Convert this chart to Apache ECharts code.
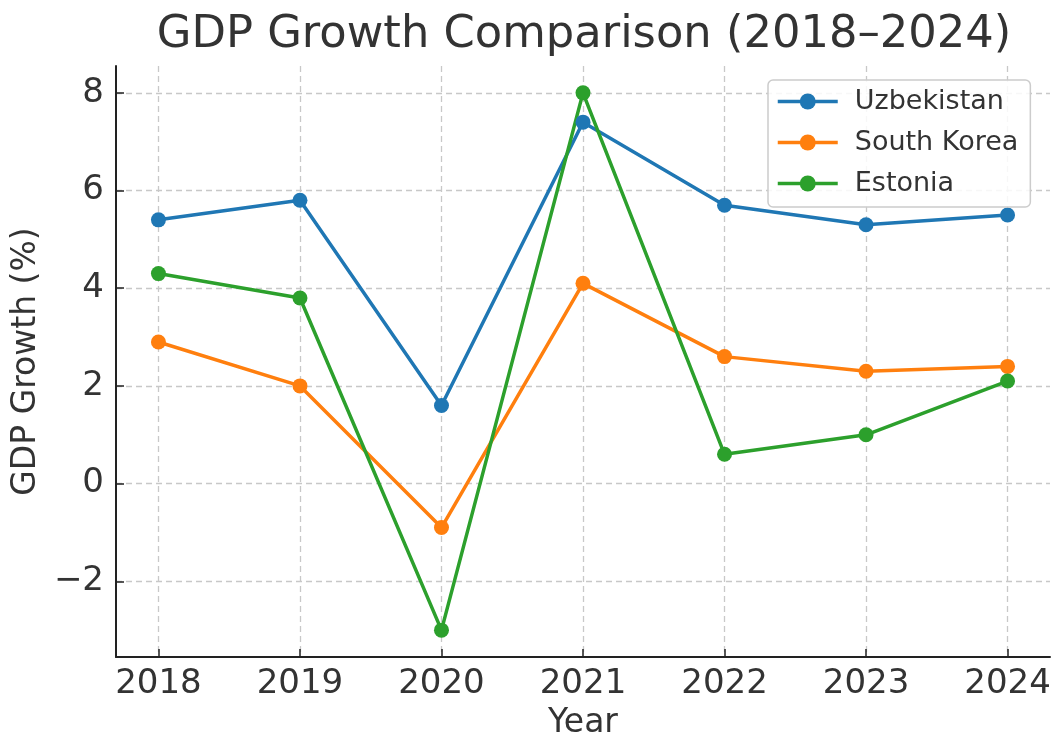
<!DOCTYPE html>
<html>
<head>
<meta charset="utf-8">
<script src="https://cdn.jsdelivr.net/npm/echarts@6/dist/echarts.min.js"></script>
<style>html,body{margin:0;padding:0;background:#fff}#c{width:1052px;height:734px}</style>
</head>
<body>
<div id="c"></div>
<script>
const years = [2018, 2019, 2020, 2021, 2022, 2023, 2024];
const uzbekistan = [5.4, 5.8, 1.6, 7.4, 5.7, 5.3, 5.5];
const southKorea = [2.9, 2.0, -0.9, 4.1, 2.6, 2.3, 2.4];
const estonia = [4.3, 3.8, -3.0, 8.0, 0.6, 1.0, 2.1];
const yTicks = [-2, 0, 2, 4, 6, 8];
const xTicks = years;

const FONT = 'DejaVu Sans';
const TXT = '#333333';
const GRID = '#c8c8c8';

function pairs(vals) { return years.map((y, i) => [y, vals[i]]); }

const chart = echarts.init(document.getElementById('c'), null, {renderer: 'canvas'});
const mk = (name, color, vals) => ({
  name, type: 'line', data: pairs(vals),
  symbol: 'circle', symbolSize: 15,
  lineStyle: {width: 3.5, color},
  itemStyle: {color},
  emphasis: {disabled: true},
  animation: false
});
chart.setOption({
  animation: false,
  title: {
    text: 'GDP Growth Comparison (2018–2024)',
    left: 579, top: 8, textAlign: 'center',
    textStyle: {fontFamily: FONT, fontSize: 44.8, fontWeight: 'normal', color: TXT}
  },
  grid: {left: 116, right: 2, top: 66, bottom: 77, containLabel: false, outerBoundsMode: 'none'},
  legend: {
    left: 768, top: 80, orient: 'vertical',
    itemWidth: 60, itemHeight: 20, itemGap: 14,
    backgroundColor: 'rgba(255,255,255,0.85)',
    borderColor: '#cccccc', borderWidth: 1.5, borderRadius: 5,
    padding: [8, 12, 10, 8],
    lineStyle: {width: 3.5},
    textStyle: {fontFamily: FONT, fontSize: 27, color: TXT, padding: [0, 0, 0, 12]},
    data: ['Uzbekistan', 'South Korea', 'Estonia']
  },
  xAxis: {
    type: 'value', min: 2017.7, max: 2024.3,
    name: 'Year', nameLocation: 'middle', nameGap: 50,
    nameTextStyle: {fontFamily: FONT, fontSize: 33, color: TXT},
    axisLine: {show: true, onZero: false, lineStyle: {color: '#222', width: 2}},
    axisTick: {show: true, inside: true, length: 8, customValues: xTicks, lineStyle: {color: '#222', width: 1.5}},
    axisLabel: {customValues: xTicks, fontFamily: FONT, fontSize: 34, color: TXT, margin: 10, formatter: v => String(v)},
    splitLine: {show: true, customValues: xTicks, lineStyle: {color: GRID, type: [6, 4], width: 1.3}}
  },
  yAxis: {
    type: 'value', min: -3.55, max: 8.55,
    name: 'GDP Growth (%)', nameLocation: 'middle', nameGap: 70, nameRotate: 90,
    nameTextStyle: {fontFamily: FONT, fontSize: 33, color: TXT},
    axisLine: {show: true, onZero: false, lineStyle: {color: '#222', width: 2}},
    axisTick: {show: true, inside: true, length: 8, customValues: yTicks, lineStyle: {color: '#222', width: 1.5}},
    axisLabel: {customValues: yTicks, fontFamily: FONT, fontSize: 34, color: TXT, margin: 12,
      formatter: v => (v < 0 ? '\u2212' + Math.abs(v) : String(v))},
    splitLine: {show: true, customValues: yTicks, lineStyle: {color: GRID, type: [6, 4], width: 1.3}}
  },
  series: [
    mk('Uzbekistan', '#1f77b4', uzbekistan),
    mk('South Korea', '#ff7f0e', southKorea),
    mk('Estonia', '#2ca02c', estonia)
  ]
});
</script>
</body>
</html>
